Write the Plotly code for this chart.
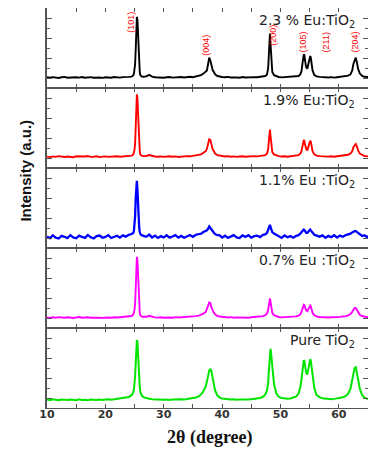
import plotly.graph_objects as go
from plotly.subplots import make_subplots

# 2-theta grid (degrees)
two_theta = [
    10.0, 10.5, 11.0, 11.5, 12.0, 12.5, 13.0, 13.5, 14.0, 14.5, 15.0, 15.5, 16.0, 16.5, 17.0,
    17.5, 18.0, 18.5, 19.0, 19.5, 20.0, 20.5, 21.0, 21.5, 22.0, 22.5, 23.0, 23.5, 24.0, 24.5,
    24.8, 24.9, 25.0, 25.1, 25.2, 25.3, 25.4, 25.5, 25.6, 25.7, 25.8, 25.9, 26.0, 26.2, 26.5,
    27.0, 27.5, 28.0, 28.5, 29.0, 29.5, 30.0, 30.5, 31.0, 31.5, 32.0, 32.5, 33.0, 33.5, 34.0,
    34.5, 35.0, 35.5, 36.0,
    36.4, 36.8, 37.2, 37.4, 37.6, 37.8, 38.0, 38.2, 38.4, 38.6, 38.8, 39.2,
    39.6, 40.0, 40.5, 41.0, 41.5, 42.0, 42.5, 43.0, 43.5, 44.0, 44.5, 45.0, 45.5, 46.0, 46.5, 47.0,
    47.4, 47.7, 47.9, 48.0, 48.1, 48.2, 48.3, 48.4, 48.6, 48.9, 49.3,
    49.7, 50.2, 50.7, 51.2, 51.7, 52.2, 52.7,
    53.1, 53.4, 53.6, 53.8, 54.0, 54.1, 54.2, 54.4, 54.6, 54.8, 55.0, 55.1, 55.2, 55.3, 55.5, 55.8, 56.2,
    56.7, 57.2, 57.7, 58.2, 58.7, 59.2, 59.7, 60.2, 60.7, 61.2, 61.6,
    62.0, 62.3, 62.5, 62.7, 62.9, 63.1, 63.3, 63.6, 64.0, 64.4, 64.8, 65.0,
]

# Intensities (a.u., as % of each panel height)
eu_2_3 = [
    13.5, 12.8, 13.6, 13.1, 12.6, 13.4, 13.9, 12.9, 13.2, 12.7, 13.5, 13.0, 13.8, 12.9, 13.3,
    13.6, 12.8, 13.4, 13.1, 12.7, 13.5, 13.2, 12.9, 13.7, 13.3, 13.0, 13.6, 13.4, 13.9, 14.2,
    16, 18, 22, 30, 48, 75, 89, 85, 62, 38, 25, 19, 16, 14.5, 14,
    14.5, 16.5, 14.2, 13.5, 13.1, 13.6, 12.9, 13.4, 13.8, 13.0, 13.5, 13.2, 13.7, 13.1, 13.6,
    14.0, 13.5, 14.2, 14.8,
    16, 18, 20, 22, 30, 38, 34, 26, 22, 20, 17, 15,
    14.2, 13.8, 13.4, 13.9, 13.1, 13.6, 13.3, 12.9, 13.7, 13.2, 13.5, 13.0, 13.6, 13.4, 13.9, 14.3,
    15, 17, 25, 40, 60, 68, 55, 35, 20, 16, 14.5,
    13.8, 13.3, 13.6, 13.1, 13.5, 13.9, 14.4,
    15, 17, 21, 32, 42, 41, 35, 26, 24, 30, 38, 40, 38, 32, 22, 16, 14.5,
    13.9, 13.4, 13.7, 13.2, 13.6, 13.0, 13.5, 13.8, 14.1, 14.6, 15.5,
    17, 22, 30, 36, 38, 32, 24, 18, 15, 14, 13.5, 13.8,
]
eu_1_9 = [
    14.2, 13.6, 14.5, 13.9, 14.8, 14.1, 13.7, 14.4, 14.0, 13.5, 14.6, 14.2, 13.8, 14.3, 14.9,
    13.9, 14.1, 14.7, 13.6, 14.2, 14.5, 13.9, 14.3, 14.0, 14.6, 14.1, 14.4, 14.8, 15.0, 15.4,
    17, 19, 23, 31, 50, 77, 92, 86, 62, 38, 26, 20, 17, 15.5, 14.8,
    15.0, 16.2, 14.9, 14.4, 14.0, 14.5, 13.9, 14.3, 14.7, 14.1, 14.5, 13.8, 14.4, 14.2, 14.8,
    14.6, 15.1, 15.4, 16.0,
    17, 19, 21, 24, 29, 36, 35, 27, 23, 21, 18, 16,
    15.2, 14.6, 14.3, 14.8, 14.1, 14.5, 13.9, 14.4, 14.7, 14.0, 14.6, 14.3, 14.9, 14.5, 15.0, 15.5,
    16, 18, 24, 33, 43, 48, 40, 30, 20, 17, 15.5,
    14.8, 14.3, 14.7, 14.1, 14.6, 15.0, 15.4,
    16, 18, 21, 28, 35, 34, 30, 24, 22, 26, 31, 34, 33, 28, 21, 17, 15.4,
    14.9, 14.4, 14.8, 14.2, 14.6, 14.1, 14.7, 15.0, 15.3, 15.8, 16.6,
    18, 21, 26, 29, 30, 27, 22, 18, 16, 15, 14.6, 14.8,
]
eu_1_1 = [
    14.5, 12.1, 15.8, 13.0, 11.8, 15.2, 14.0, 12.4, 16.0, 13.3, 12.2, 15.5, 13.8, 12.6, 16.3,
    13.4, 11.9, 14.9, 15.6, 12.8, 13.9, 16.1, 12.5, 14.4, 15.3, 12.9, 15.8, 14.2, 16.4, 17.5,
    19, 22, 28, 40, 62, 82, 84, 72, 50, 34, 25, 20, 17.5, 16, 15,
    14.0, 16.8, 13.2, 15.5, 12.6, 14.8, 13.1, 15.9, 12.9, 14.3, 16.0, 13.0, 15.1, 12.8, 14.9,
    16.2, 14.0, 16.6, 17.2,
    18, 20, 21, 22, 24, 27, 25, 22, 21, 19, 17.5, 16,
    15.8, 13.0, 15.4, 12.7, 14.6, 16.1, 13.3, 12.5, 15.7, 13.9, 16.0, 12.9, 14.8, 15.5, 13.6, 16.5,
    17, 19, 23, 26, 28, 29, 26, 23, 20, 18, 16,
    15.0, 12.6, 15.8, 13.4, 14.9, 12.8, 15.3,
    16, 18, 20, 22, 23, 22.5, 21, 19, 19, 20.5, 22, 23, 22, 21, 19, 16.5, 15.5,
    14.2, 15.8, 12.7, 15.1, 13.4, 16.0, 13.1, 15.5, 14.0, 16.2, 17.0,
    18, 19.5, 20.5, 21, 21, 20, 18.5, 16.5, 15, 15.8, 13.8, 15.0,
]
eu_0_7 = [
    13.2, 12.7, 13.5, 12.9, 13.6, 13.1, 12.8, 13.4, 13.0, 12.6, 13.3, 13.7, 12.9, 13.2, 13.5,
    12.8, 13.1, 13.6, 13.0, 12.7, 13.4, 13.2, 12.9, 13.5, 13.1, 13.6, 13.3, 13.8, 14.3, 15.0,
    17, 19, 23, 31, 50, 76, 89, 84, 60, 36, 24, 18.5, 16, 14.5, 14,
    14.0, 15.2, 13.9, 13.3, 13.0, 13.5, 12.9, 13.4, 13.1, 12.8, 13.6, 13.2, 13.5, 13.0, 13.7,
    13.9, 14.4, 14.8, 15.5,
    16.5, 18, 20, 23, 28, 32, 31, 25, 21, 19, 17, 15,
    14.3, 13.8, 13.4, 13.1, 13.6, 12.9, 13.3, 13.0, 13.5, 13.2, 12.8, 13.4, 13.7, 13.9, 14.3, 14.9,
    16, 18, 23, 30, 35, 37, 33, 26, 19, 16, 14.5,
    13.8, 13.3, 13.6, 13.1, 13.5, 13.9, 14.5,
    15.5, 17, 20, 25, 29, 28.5, 26, 22, 21, 24, 27, 28, 27, 24, 19, 16, 14.5,
    13.8, 13.4, 13.7, 13.2, 13.5, 13.1, 13.6, 13.9, 14.2, 14.8, 15.8,
    17.5, 20, 23, 25, 25, 23, 19.5, 16.5, 15, 14, 13.5, 13.7,
]
pure = [
    10.5, 9.8, 10.9, 10.2, 9.6, 10.7, 10.1, 9.9, 10.6, 10.3, 9.7, 10.8, 10.0, 10.4, 9.8,
    10.6, 10.2, 9.9, 10.7, 10.1, 10.5, 10.9, 10.3, 10.8, 11.2, 11.5, 12.0, 12.8, 13.8, 16.0,
    20, 24, 30, 40, 56, 74, 85, 82, 66, 47, 33, 25, 20, 16, 13.5,
    12.2, 11.6, 11.0, 10.7, 10.4, 10.9, 10.2, 10.6, 10.0, 10.5, 10.8, 10.3, 11.0, 10.7, 11.2,
    11.6, 12.3, 13.2, 14.6,
    17, 21, 27, 33, 40, 47, 49, 45, 37, 29, 22, 15.5,
    13.0, 12.0, 11.4, 11.0, 10.6, 10.9, 10.3, 10.7, 10.4, 10.8, 10.5, 11.0, 11.3, 11.8, 12.6, 14.0,
    17, 22, 32, 45, 58, 70, 74, 68, 50, 30, 18,
    14.0, 12.5, 11.8, 11.5, 12.0, 12.8, 14.5,
    18, 26, 36, 50, 60, 59, 54, 44, 42, 50, 58, 61, 59, 53, 40, 25, 16,
    13.5, 12.3, 11.6, 11.2, 11.0, 11.4, 11.8, 12.4, 13.5, 15.0, 18.0,
    24, 34, 44, 50, 51, 45, 36, 24, 16, 13, 11.5, 11.0,
]

series = [eu_2_3, eu_1_9, eu_1_1, eu_0_7, pure]
labels = ["2.3 % Eu:TiO<sub>2</sub>", "1.9% Eu:TiO<sub>2</sub>", "1.1% Eu :TiO<sub>2</sub>",
          "0.7% Eu :TiO<sub>2</sub>", "Pure TiO<sub>2</sub>"]
colors = ["#000000", "#ff0000", "#0000ff", "#ff00ff", "#00e400"]
widths = [1.9, 1.9, 2.3, 1.9, 2.0]

hkl_labels = ["(101)", "(004)", "(200)", "(105)", "(211)", "(204)"]
hkl_x = [24.45, 37.25, 48.8, 53.9, 57.8, 62.8]
hkl_y = [82, 53, 66, 57, 57, 57]

for s in series:
    assert len(s) == len(two_theta), (len(s), len(two_theta))

fig = make_subplots(rows=5, cols=1, shared_xaxes=True, vertical_spacing=0)

for i, (s, c, w) in enumerate(zip(series, colors, widths)):
    fig.add_trace(go.Scatter(x=two_theta, y=s, mode="lines",
                             line=dict(color=c, width=w), showlegend=False),
                  row=i + 1, col=1)

axis_col = "#555555"
for i in range(5):
    fig.update_xaxes(range=[10, 65], showline=True, linecolor=axis_col, linewidth=1,
                     mirror="ticks", ticks="inside", ticklen=4, tickwidth=1.2,
                     tickcolor=axis_col, tick0=10, dtick=10,
                     minor=dict(dtick=5, ticks="inside", ticklen=4, tickcolor=axis_col, tickwidth=1.2),
                     showgrid=False, zeroline=False, ticklabelstandoff=-4,
                     tickfont=dict(family="DejaVu Sans", size=11, color="#333333", weight="bold"),
                     row=i + 1, col=1)
    fig.update_yaxes(range=[0, 100], showline=True, linecolor=axis_col, linewidth=1.5,
                     mirror="ticks", ticks="inside", ticklen=5, tickwidth=1.2, tickcolor=axis_col,
                     tick0=12, dtick=25,
                     minor=dict(dtick=12.5, ticks="inside", ticklen=3, tickcolor=axis_col, tickwidth=1.2),
                     showgrid=False, zeroline=False, showticklabels=False,
                     row=i + 1, col=1)

annotations = []
for i, lab in enumerate(labels):
    sfx = "" if i == 0 else str(i + 1)
    annotations.append(dict(text=lab, xref="x%s domain" % sfx, yref="y%s domain" % sfx,
                            x=0.965, y=0.84, xanchor="right", yanchor="middle", showarrow=False,
                            font=dict(family="DejaVu Sans", size=14, color="#222222")))

for t, xv, yv in zip(hkl_labels, hkl_x, hkl_y):
    annotations.append(dict(text=t, xref="x", yref="y", x=xv, y=yv, textangle=-90,
                            showarrow=False, xanchor="center", yanchor="middle",
                            font=dict(family="Liberation Sans, Arial", size=9, color="#ff0000")))

annotations.append(dict(text="Intensity (a.u.)", xref="paper", yref="paper", x=-0.068, y=0.594,
                        textangle=-90, showarrow=False, xanchor="center", yanchor="middle",
                        font=dict(family="Liberation Sans, Arial", size=15, color="#111111", weight="bold")))
annotations.append(dict(text="2θ (degree)", xref="paper", yref="paper", x=0.508, y=-0.074,
                        showarrow=False, xanchor="center", yanchor="middle",
                        font=dict(family="Liberation Serif, Times New Roman", size=18, color="#111111", weight="bold")))

# page body has an 8px margin: figure is sized/offset so the plot area sits at x 47-368, y 8-400
fig.update_layout(width=368, height=446, margin=dict(l=39, r=8, t=0, b=46),
                  paper_bgcolor="white", plot_bgcolor="white", annotations=annotations)

fig.write_html("out.html")
